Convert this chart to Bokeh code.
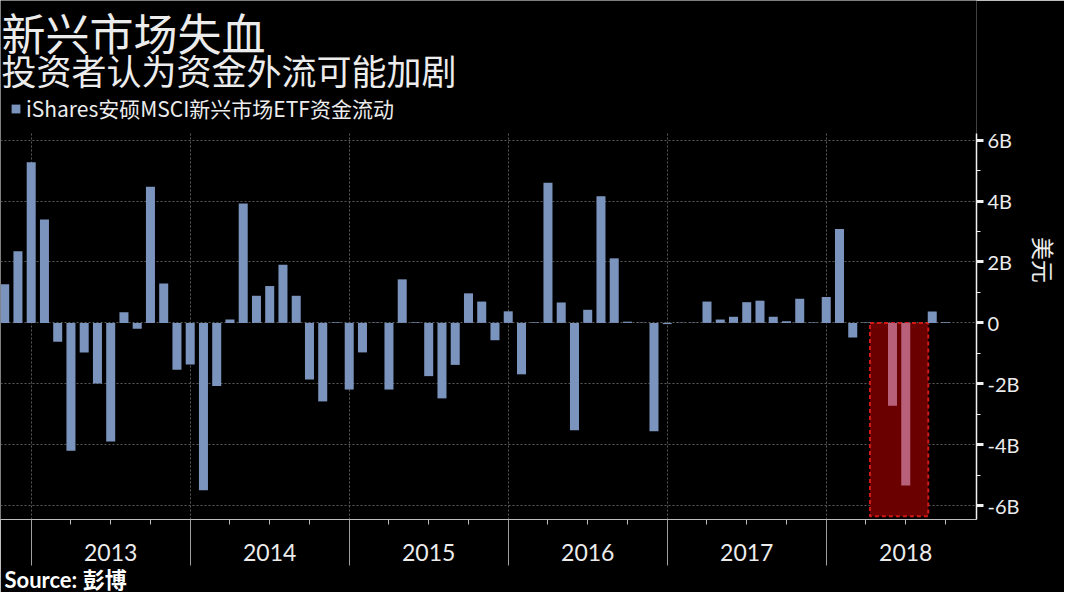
import pandas as pd
from bokeh.plotting import figure
from bokeh.models import (Range1d, FixedTicker, ColumnDataSource, Legend, LegendItem,
                          Title, Label)
from bokeh.embed import file_html
from bokeh.resources import INLINE

# ---------------- data ----------------
months = [str(p) for p in pd.period_range("2012-10", "2018-09", freq="M")]
flows_bn = [
    1.27, 2.35,                                                    # 2012 Oct-Nov
    5.28, 3.40, -0.62, -4.20, -0.97, -1.99, -3.90, 0.35, -0.19, 4.47, 1.29, -1.54,   # Dec12-Nov13
    -1.37, -5.50, -2.07, 0.11, 3.92, 0.89, 1.21, 1.91, 0.89, -1.86, -2.58, 0.02,      # Dec13-Nov14
    -2.19, -0.97, 0.01, -2.19, 1.43, 0.02, -1.75, -2.48, -1.38, 0.97, 0.70, -0.57,    # Dec14-Nov15
    0.38, -1.69, 0.02, 4.60, 0.67, -3.53, 0.43, 4.16, 2.12, 0.04, 0.01, -3.56,        # Dec15-Nov16
    -0.04, 0.01, 0.01, 0.70, 0.11, 0.20, 0.68, 0.73, 0.20, 0.05, 0.79, 0.01,          # Dec16-Nov17
    0.85, 3.08, -0.48, 0.01, 0.00, -2.72, -5.34, 0.00, 0.37, 0.02,                    # Dec17-Sep18
]
highlight_months = ["2018-05", "2018-06"]
years = ["2013", "2014", "2015", "2016", "2017", "2018"]
y_ticks = [-6, -4, -2, 0, 2, 4, 6]
y_tick_labels = ["-6B", "-4B", "-2B", "0", "2B", "4B", "6B"]

title_text = "新兴市场失血"
subtitle_text = "投资者认为资金外流可能加剧"
series_name = "iShares安硕MSCI新兴市场ETF资金流动"
y_label = "美元"
source_text = "Source: 彭博"

# ---------------- styles ----------------
BG = "black"
BAR = "#7b94bd"
BAR_HI = "#b8607a"
TXT = "#ececec"
GRID = "#5a5a5a"
FONT = "Noto Sans CJK SC"
LFONT = "Lato, Noto Sans CJK SC"

W, H = 1064, 592
FRAME_BOTTOM = 520          # expected canvas y of the x axis
PX_PER_B = 30.5
ZERO_Y = 323
Y_TOP = ZERO_Y / PX_PER_B
Y_BOTTOM = -(FRAME_BOTTOM - ZERO_Y) / PX_PER_B
AXIS_TOP = 6.23


def month_pos(m):
    y, mo = m.split("-")
    return (int(y) - 2013) * 12 + int(mo)   # month-end position, 0 = start of 2013


xs = [month_pos(m) for m in months]
colors = [BAR_HI if m in highlight_months else BAR for m in months]
src = ColumnDataSource(dict(x=xs, top=flows_bn, month=months, color=colors))

year_starts = [(int(y) - 2013) * 12 for y in years]
year_mids = [s + 6 for s in year_starts]
quarter_ticks = [s + q for s in year_starts for q in (3, 6, 9)]

p = figure(width=W, height=H, output_backend="svg", toolbar_location=None,
           x_range=Range1d(-2.317, 71.34), y_range=Range1d(Y_BOTTOM, Y_TOP),
           y_axis_location="right",
           min_border_left=0, min_border_right=88, min_border_top=0, min_border_bottom=0)
p.background_fill_color = BG
p.border_fill_color = BG
p.outline_line_color = None

# highlight box
hx = [month_pos(m) for m in highlight_months]
p.quad(left=[min(hx) - 1.7], right=[max(hx) + 1.7], top=[0.0], bottom=[-6.35],
       fill_color="#6a0000", line_color="#d01818", line_width=2, line_dash="4 3")

bars = p.vbar(x="x", top="top", bottom=0, width=0.68, source=src,
              fill_color="color", line_color=None)

# y axis (right)
ya = p.yaxis[0]
ya.bounds = (Y_BOTTOM, AXIS_TOP)
ya.ticker = FixedTicker(ticks=y_ticks, minor_ticks=list(range(-6, 7)))
ya.major_label_overrides = {t: l for t, l in zip(y_ticks, y_tick_labels)}
ya.axis_line_color = "#f0f0f0"
ya.axis_line_width = 1.5
ya.major_tick_line_color = "#f0f0f0"
ya.major_tick_line_width = 3
ya.major_tick_out = 7
ya.major_tick_in = 0
ya.minor_tick_line_color = "#f0f0f0"
ya.minor_tick_out = 4
ya.minor_tick_in = 0
ya.major_label_text_color = TXT
ya.major_label_text_font = LFONT
ya.major_label_text_font_size = "20px"
ya.major_label_standoff = 4
ya.axis_label = y_label
ya.axis_label_text_color = TXT
ya.axis_label_text_font = FONT
ya.axis_label_text_font_size = "23px"
ya.axis_label_text_font_style = "normal"
ya.axis_label_standoff = 5

# x axis: short quarter ticks (year label at mid-year), long separators at year starts
xa = p.xaxis[0]
xa.ticker = FixedTicker(ticks=quarter_ticks, minor_ticks=year_starts)
xa.major_label_overrides = {t: (years[year_mids.index(t)] if t in year_mids else "")
                            for t in quarter_ticks}
xa.axis_line_color = "#bdbdbd"
xa.major_tick_line_color = "#bdbdbd"
xa.major_tick_out = 5
xa.major_tick_in = 0
xa.minor_tick_line_color = "#a0a0a0"
xa.minor_tick_out = 46
xa.minor_tick_in = 0
xa.major_label_text_color = TXT
xa.major_label_text_font = LFONT
xa.major_label_text_font_size = "23px"
xa.major_label_standoff = -22

p.xgrid.ticker = FixedTicker(ticks=year_starts)
for g in (p.xgrid[0], p.ygrid[0]):
    g.grid_line_color = GRID
    g.grid_line_dash = "2 2"
if "cross_bounds" in p.xgrid[0].properties():
    p.xgrid[0].cross_bounds = (Y_BOTTOM, AXIS_TOP)

# titles inside the (tall) frame, above the data area
p.add_layout(Label(x=1, y=FRAME_BOTTOM - 32, x_units="screen", y_units="screen",
                   text=title_text, text_baseline="middle", text_color=TXT,
                   text_font=FONT, text_font_size="44px"))
p.add_layout(Label(x=1, y=FRAME_BOTTOM - 70, x_units="screen", y_units="screen",
                   text=subtitle_text, text_baseline="middle", text_color=TXT,
                   text_font=FONT, text_font_size="35px"))

legend = Legend(items=[LegendItem(label=series_name, renderers=[bars])],
                location=(10, FRAME_BOTTOM - 124), orientation="horizontal",
                background_fill_alpha=0, border_line_alpha=0, padding=0, margin=0,
                glyph_width=11, glyph_height=11, label_standoff=5, spacing=0,
                label_text_color=TXT, label_text_font=FONT, label_text_font_size="21px")
p.add_layout(legend)

# source below the axis
p.add_layout(Title(text=source_text, align="left", text_color="#ffffff", text_font=LFONT,
                   text_font_size="22px", text_font_style="bold", standoff=0, offset=4),
             "below")

open("out.html", "w").write(file_html(p, INLINE))
